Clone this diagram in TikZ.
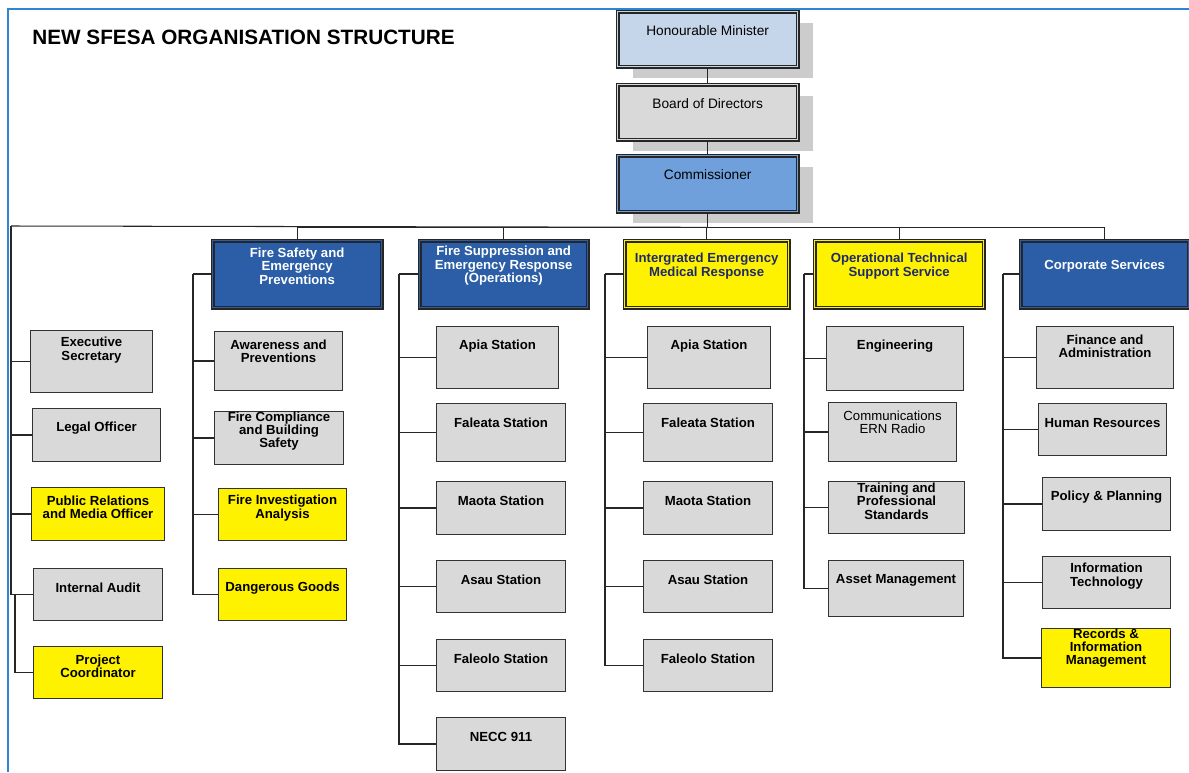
\documentclass[tikz,border=0pt]{standalone}
\usepackage{fontspec}
\setmainfont{Liberation Sans}
\usetikzlibrary{shadows}
\definecolor{minblue}{RGB}{198,214,234}
\definecolor{comblue}{RGB}{111,160,220}
\definecolor{divblue}{RGB}{43,94,166}
\definecolor{unitgrey}{RGB}{217,217,217}
\definecolor{frameblue}{RGB}{46,134,209}
\definecolor{navytext}{RGB}{31,42,107}

\begin{document}
\begin{tikzpicture}[x=0.02cm, y=-0.02cm,
  sz/.style 2 args={minimum width=#1*0.02cm, minimum height=#2*0.02cm},
  unit/.style={draw=black!80, line width=0.6pt, fill=unitgrey, anchor=north west, inner sep=0pt},
  yel/.style={fill=yellow},
  govbox/.style={draw=black!85, line width=0.75pt, double distance=0.9pt, anchor=north west, inner sep=0pt,
    drop shadow={shadow xshift=0.3cm, shadow yshift=-0.23cm, fill=gray!40, opacity=1}},
  divbox/.style={draw=black!85, line width=0.75pt, double distance=0.9pt, anchor=north west, inner sep=0pt},
  lbl/.style={anchor=center, align=center, inner sep=0pt},
  txt/.style={lbl, yshift=-0.4cm, font=\fontsize{7.5}{7.6}\selectfont\bfseries},
  plaintxt/.style={lbl, yshift=-0.4cm, font=\fontsize{7.5}{7.6}\selectfont},
  govtxt/.style={lbl, yshift=-0.39cm, font=\fontsize{7.8}{8}\selectfont},
  divtxt/.style={lbl, yshift=-0.52cm, text=white, font=\fontsize{7.5}{7.7}\selectfont\bfseries},
  yeltxt/.style={lbl, yshift=-0.52cm, text=navytext, font=\fontsize{7.5}{7.7}\selectfont\bfseries},
  link/.style={draw=black!85, line width=0.6pt},
  side/.style={draw=black!85, line width=1pt}]

\useasboundingbox (0,0) rectangle (1189,772);
\draw[frameblue, line width=1.4pt] (8,772) -- (8,9) -- (1189,9);

\node[anchor=west, inner sep=0pt, font=\fontsize{11.8}{13}\selectfont\bfseries] (title) at (32,37) {NEW SFESA ORGANISATION STRUCTURE};

% GOVERNANCE

\node[govbox, fill=minblue, double=minblue, sz={180}{55}, label={[govtxt]north:Honourable Minister}] (min) at (617,11) {};
\node[govbox, fill=unitgrey, double=unitgrey, sz={180}{55}, label={[govtxt]north:Board of Directors}] (bod) at (617,84) {};
\node[govbox, fill=comblue, double=comblue, sz={180}{56}, label={[govtxt]north:Commissioner}] (com) at (617,155) {};

\draw[link] (min.south) -- (bod.north);
\draw[link] (bod.south) -- (com.north);
\draw[link] (com.south) -- ++(0,15) coordinate (bus);

% DIVISIONS

\node[divbox, fill=divblue, double=divblue, sz={169}{67}, label={[divtxt]north:Fire Safety and\\Emergency\\Preventions}] (fsep) at (212,240) {};
\node[divbox, fill=divblue, double=divblue, sz={168}{67}, label={[divtxt]north:Fire Suppression and\\Emergency Response\\(Operations)}] (fser) at (419,240) {};
\node[divbox, fill=yellow, double=yellow, sz={164}{67}, label={[yeltxt]north:Intergrated Emergency\\Medical Response}] (iemr) at (624,240) {};
\node[divbox, fill=yellow, double=yellow, sz={169}{67}, label={[yeltxt]north:Operational Technical\\Support Service}] (otss) at (814,240) {};
\node[divbox, fill=divblue, double=divblue, sz={168}{67}, label={[divtxt]north:Corporate Services}] (cs) at (1020,240) {};

\foreach \d in {fsep,fser,iemr,otss,cs}
  \draw[link] (bus) -| (\d.north);

% OFFICE OF THE COMMISSIONER

\node[unit, sz={122}{62}, label={[txt]north:Executive\\Secretary}] (es) at (30,330) {};
\node[unit, sz={128}{53}, label={[txt]north:Legal Officer}] (lo) at (32,408) {};
\node[unit, yel, sz={133}{53}, label={[txt]north:Public Relations\\and Media Officer}] (pr) at (31,487) {};
\node[unit, sz={129}{52}, label={[txt]north:Internal Audit}] (ia) at (33,568) {};
\node[unit, yel, sz={129}{52}, label={[txt]north:Project\\Coordinator}] (pc) at (33,646) {};

\coordinate (lft) at (11,226);
\draw[link] (bus) -- (lft);
\foreach \u in {es,lo,pr,ia}
  \draw[side] (lft) |- (\u.west);
\draw[side] (ia.west) ++(-18,0) |- (pc.west);

% FIRE SAFETY

\node[unit, sz={128}{59}, label={[txt]north:Awareness and\\Preventions}] (ap) at (214,331) {};
\node[unit, sz={129}{53}, label={[txt]north:Fire Compliance\\and Building\\Safety}] (fcb) at (214,411) {};
\node[unit, yel, sz={128}{52}, label={[txt]north:Fire Investigation\\Analysis}] (fia) at (218,488) {};
\node[unit, yel, sz={128}{52}, label={[txt]north:Dangerous Goods}] (dg) at (218,568) {};

\draw[side] (fsep.west) -- ++(-19,0) coordinate (fsepx);
\foreach \u in {ap,fcb,fia,dg}
  \draw[side] (fsepx) |- (\u.west);

% FIRE SUPPRESSION

\node[unit, sz={122}{62}, label={[txt]north:Apia Station}] (apia1) at (436,326) {};
\node[unit, sz={129}{58}, label={[txt]north:Faleata Station}] (fal1) at (436,403) {};
\node[unit, sz={129}{53}, label={[txt]north:Maota Station}] (mao1) at (436,481) {};
\node[unit, sz={129}{52}, label={[txt]north:Asau Station}] (asa1) at (436,560) {};
\node[unit, sz={129}{52}, label={[txt]north:Faleolo Station}] (flo1) at (436,639) {};
\node[unit, sz={129}{53}, label={[txt]north:NECC 911}] (necc) at (436,717) {};

\draw[side] (fser.west) -- ++(-20,0) coordinate (fserx);
\foreach \u in {apia1,fal1,mao1,asa1,flo1,necc}
  \draw[side] (fserx) |- (\u.west);

% MEDICAL RESPONSE

\node[unit, sz={123}{62}, label={[txt]north:Apia Station}] (apia2) at (647,326) {};
\node[unit, sz={129}{58}, label={[txt]north:Faleata Station}] (fal2) at (643,403) {};
\node[unit, sz={129}{53}, label={[txt]north:Maota Station}] (mao2) at (643,481) {};
\node[unit, sz={129}{52}, label={[txt]north:Asau Station}] (asa2) at (643,560) {};
\node[unit, sz={129}{52}, label={[txt]north:Faleolo Station}] (flo2) at (643,639) {};

\draw[side] (iemr.west) -- ++(-19,0) coordinate (iemrx);
\foreach \u in {apia2,fal2,mao2,asa2,flo2}
  \draw[side] (iemrx) |- (\u.west);

% TECHNICAL SUPPORT

\node[unit, sz={137}{64}, label={[txt]north:Engineering}] (eng) at (826,326) {};
\node[unit, sz={128}{59}, label={[plaintxt]north:Communications\\ERN Radio}] (ern) at (828,402) {};
\node[unit, sz={136}{52}, label={[txt]north:Training and\\Professional\\Standards}] (tps) at (828,481) {};
\node[unit, sz={135}{56}, label={[txt]north:Asset Management}] (am) at (828,560) {};

\draw[side] (otss.west) -- ++(-10,0) coordinate (otssx);
\foreach \u in {eng,ern,tps,am}
  \draw[side] (otssx) |- (\u.west);

% CORPORATE

\node[unit, sz={137}{62}, label={[txt]north:Finance and\\Administration}] (fa) at (1036,326) {};
\node[unit, sz={128}{52}, label={[txt]north:Human Resources}] (hr) at (1038,403) {};
\node[unit, sz={128}{53}, label={[txt]north:Policy \& Planning}] (pp) at (1042,477) {};
\node[unit, sz={128}{52}, label={[txt]north:Information\\Technology}] (it) at (1042,556) {};
\node[unit, yel, sz={129}{59}, label={[txt]north:Records \&\\Information\\Management}] (rim) at (1041,628) {};

\draw[side] (cs.west) -- ++(-17,0) coordinate (csx);
\foreach \u in {fa,hr,pp,it,rim}
  \draw[side] (csx) |- (\u.west);

\end{tikzpicture}
\end{document}
